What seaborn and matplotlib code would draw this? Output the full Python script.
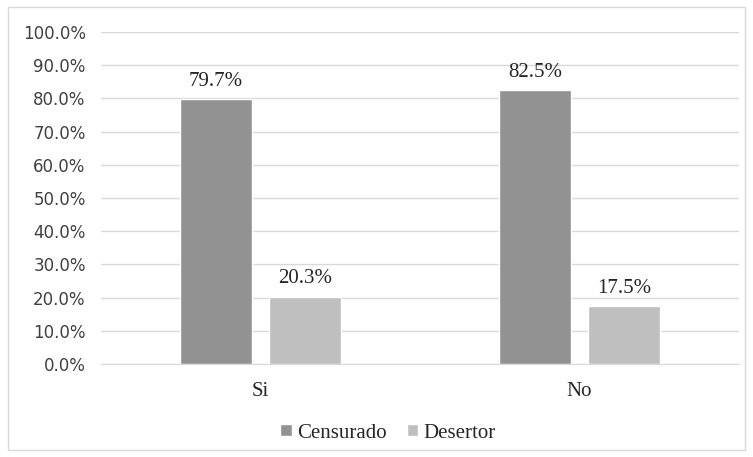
import pandas as pd
import matplotlib.pyplot as plt
import seaborn as sns
from matplotlib.patches import Rectangle
from matplotlib.ticker import PercentFormatter

categories = ["Si", "No"]
series = ["Censurado", "Desertor"]
censurado = [0.797, 0.825]
desertor = [0.203, 0.175]
yticks = [i / 10 for i in range(11)]

df = pd.DataFrame({
    "Grupo": categories * 2,
    "Estado": [series[0]] * 2 + [series[1]] * 2,
    "Valor": censurado + desertor,
})

sns.set_style("white")
plt.rcParams["font.family"] = ["Liberation Serif", "DejaVu Serif"]

fig = plt.figure(figsize=(7.53, 4.57), dpi=100)
ax = fig.add_axes([101 / 753, 1 - 364 / 457, 638 / 753, 332 / 457])

sns.barplot(data=df, x="Grupo", y="Valor", hue="Estado", order=categories,
            hue_order=series, palette=["#929292", "#bfbfbf"],
            width=0.561, gap=0.20, saturation=1, ax=ax, legend=True)

# etiquetas encima de cada barra
for cont in ax.containers:
    ax.bar_label(cont, labels=[f"{v * 100:.1f}%" for v in cont.datavalues],
                 padding=6, fontsize=15, color="#262626")

ax.set_xlim(-0.5, 1.5)
ax.set_ylim(0, 1.0)
ax.set_yticks(yticks)
ax.yaxis.set_major_formatter(PercentFormatter(1.0, decimals=1))
ax.grid(axis="y", color="#d9d9d9", linewidth=1)
ax.set_axisbelow(True)
ax.tick_params(axis="both", length=0, colors="#262626")
ax.tick_params(axis="x", pad=13, labelsize=15)
ax.tick_params(axis="y", pad=11)
for lab in ax.get_yticklabels():
    lab.set_fontfamily("DejaVu Sans")
    lab.set_fontsize(12)
    lab.set_color("#404040")
ax.set_xlabel("")
ax.set_ylabel("")
for side in ["top", "right", "left"]:
    ax.spines[side].set_visible(False)
ax.spines["bottom"].set_color("#d9d9d9")

handles, labels = ax.get_legend_handles_labels()
ax.get_legend().remove()
fig.legend(handles, labels, loc="center", bbox_to_anchor=(388 / 753, 1 - 433 / 457),
           ncol=2, frameon=False, fontsize=15, handlelength=0.55, handleheight=0.55,
           handletextpad=0.25, columnspacing=0.95, labelcolor="#262626")

fig.patches.append(Rectangle((8 / 753, 7 / 457), 737 / 753, 443 / 457,
                             transform=fig.transFigure, fill=False,
                             edgecolor="#d9d9d9", linewidth=1))

fig.savefig("out.png", dpi=100)
